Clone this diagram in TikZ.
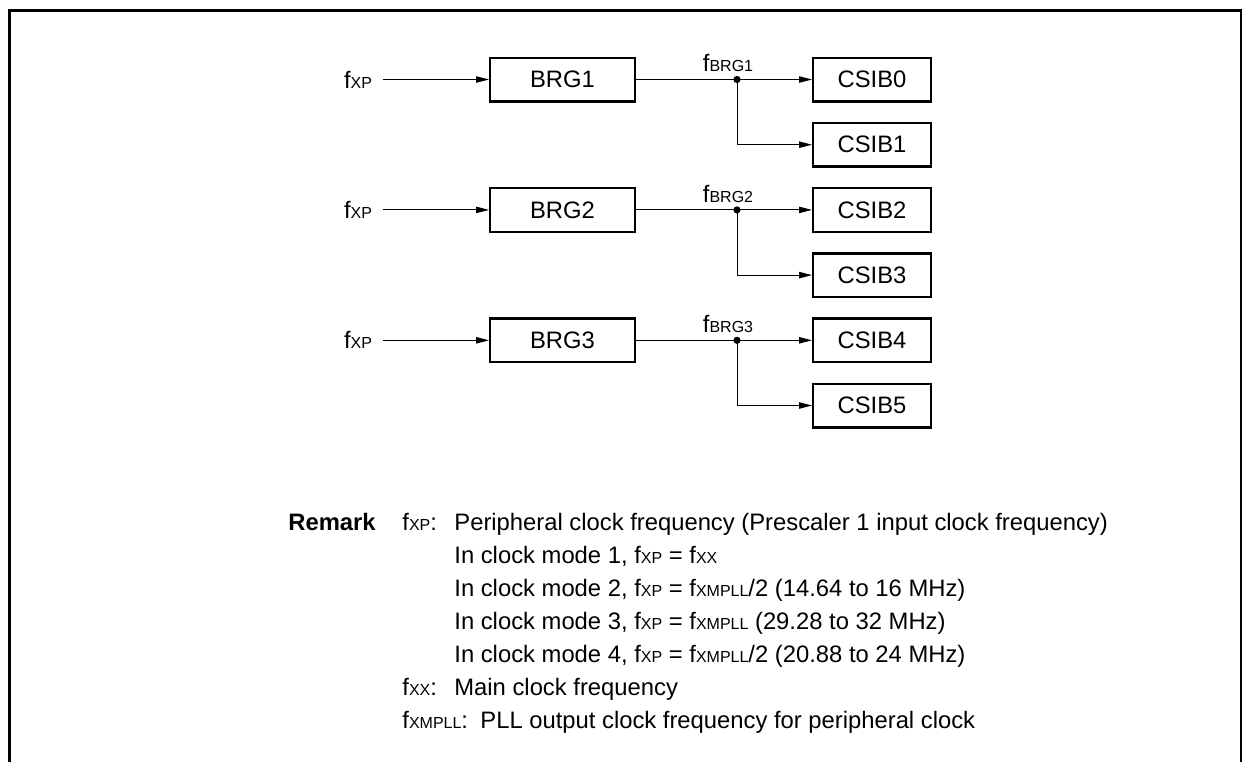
\documentclass[tikz,border=0pt]{standalone}
\usepackage{fontspec}
\setmainfont{Liberation Sans}
\usetikzlibrary{arrows.meta,positioning}
\newcommand{\fq}[1]{f{\fontsize{8pt}{9pt}\selectfont #1}}
\tikzset{
  blkbox/.style={draw, line width=1.2pt, minimum height=21.8pt,
    inner sep=0pt, font=\fontsize{11.9pt}{14pt}\selectfont},
  brgbox/.style={blkbox, minimum width=72.3pt},
  csibbox/.style={blkbox, minimum width=58.8pt},
  sigline/.style={line width=0.5pt},
  sigarr/.style={sigline, -{Triangle[length=6.5pt,width=3.2pt]}},
  flabel/.style={inner sep=0pt, outer sep=0pt, font=\fontsize{11.9pt}{14pt}\selectfont},
  rmtext/.style={inner sep=0pt, anchor=base west, font=\fontsize{11.9pt}{14pt}\selectfont},
}

\begin{document}
\begin{tikzpicture}[x=0.5pt, y=-0.5pt]
  \useasboundingbox (0,0) rectangle (1242,762);
  \draw[line width=1.65pt] (9.5,762) -- (9.5,10.5) -- (1241.5,10.5) -- (1241.5,762);

  \node[csibbox] (csib0) at (872,79.5) {CSIB0};
  \node[csibbox, below=9.6pt of csib0] (csib1) {CSIB1};
  \node[csibbox, below=9.6pt of csib1] (csib2) {CSIB2};
  \node[csibbox, below=9.6pt of csib2] (csib3) {CSIB3};
  \node[csibbox, below=9.6pt of csib3] (csib4) {CSIB4};
  \node[csibbox, below=9.6pt of csib4] (csib5) {CSIB5};

  \node[brgbox, left=88pt of csib0] (brg1) {BRG1};
  \node[brgbox, left=88pt of csib2] (brg2) {BRG2};
  \node[brgbox, left=88pt of csib4] (brg3) {BRG3};

  \node[flabel, inner xsep=5.5pt, left=53pt of brg1] (in1) {\fq{XP}};
  \node[flabel, inner xsep=5.5pt, left=53pt of brg2] (in2) {\fq{XP}};
  \node[flabel, inner xsep=5.5pt, left=53pt of brg3] (in3) {\fq{XP}};

  \coordinate[right=50.5pt of brg1.east] (s1);
  \coordinate[right=50.5pt of brg2.east] (s2);
  \coordinate[right=50.5pt of brg3.east] (s3);

  \node[flabel, above=3.8pt of s1, xshift=-4.5pt] (f1) {\fq{BRG1}};
  \node[flabel, above=3.8pt of s2, xshift=-4.5pt] (f2) {\fq{BRG2}};
  \node[flabel, above=3.8pt of s3, xshift=-4.5pt] (f3) {\fq{BRG3}};

  \draw[sigarr] (in1) -- (brg1);
  \draw[sigline] (brg1) -- (s1);
  \draw[sigarr] (s1) -- (csib0);
  \draw[sigarr] (s1) |- (csib1);
  \fill (s1) circle (1.8pt);

  \draw[sigarr] (in2) -- (brg2);
  \draw[sigline] (brg2) -- (s2);
  \draw[sigarr] (s2) -- (csib2);
  \draw[sigarr] (s2) |- (csib3);
  \fill (s2) circle (1.8pt);

  \draw[sigarr] (in3) -- (brg3);
  \draw[sigline] (brg3) -- (s3);
  \draw[sigarr] (s3) -- (csib4);
  \draw[sigarr] (s3) |- (csib5);
  \fill (s3) circle (1.8pt);

  \node[rmtext] (rmk) at (288,530) {\textbf{Remark}};
  \node[rmtext] (k1) at (402,530) {\fq{XP}:};
  \node[rmtext] (d1) at (454,530) {Peripheral clock frequency (Prescaler 1 input clock frequency)};
  \node[rmtext] (d2) at (454,563) {In clock mode 1, \fq{XP} = \fq{XX}};
  \node[rmtext] (d3) at (454,596) {In clock mode 2, \fq{XP} = \fq{XMPLL}/2 (14.64 to 16 MHz)};
  \node[rmtext] (d4) at (454,629) {In clock mode 3, \fq{XP} = \fq{XMPLL} (29.28 to 32 MHz)};
  \node[rmtext] (d5) at (454,662) {In clock mode 4, \fq{XP} = \fq{XMPLL}/2 (20.88 to 24 MHz)};
  \node[rmtext] (k2) at (402,695) {\fq{XX}:};
  \node[rmtext] (d6) at (454,695) {Main clock frequency};
  \node[rmtext] (k3) at (402,728) {\fq{XMPLL}:};
  \node[rmtext] (d7) at (480,728) {PLL output clock frequency for peripheral clock};
\end{tikzpicture}
\end{document}
